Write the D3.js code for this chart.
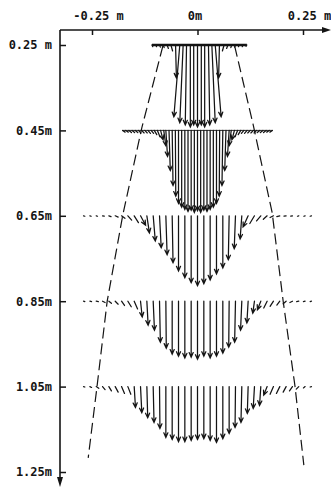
<!DOCTYPE html>
<meta charset="utf-8">
<script src="https://d3js.org/d3.v7.min.js"></script>
<style>
  body { margin: 0; background: #fff; }
  .tick text { font-family: "DejaVu Sans Mono", monospace; font-size: 12px; font-weight: bold; fill: #141414; }
</style>
<div id="chart"></div>
<script>
// measuring depths (m) and axis labels
var depths = [0.25, 0.45, 0.65, 0.85, 1.05];
var xTicks = [-0.25, 0, 0.25];
var xTickLabels = ["-0.25 m", "0m", "0.25 m"];
var yTicks = [0.25, 0.45, 0.65, 0.85, 1.05, 1.25];
var yTickLabels = ["0.25 m", "0.45m", "0.65m", "0.85m", "1.05m", "1.25m"];

// velocity vectors per depth: [x (m), downward part (m), sideways part (m)]
var profile025 = [
  [-0.108, 0.004, 0.002], [-0.099, 0.004, 0.002], [-0.090, 0.005, 0.002], [-0.081, 0.006, 0.002],
  [-0.072, 0.008, 0.003], [-0.063, 0.014, 0.004], [-0.052, 0.077, 0.002], [-0.042, 0.168, -0.014],
  [-0.034, 0.182, -0.008], [-0.026, 0.187, -0.003], [-0.017, 0.192, 0], [-0.009, 0.187, 0],
  [0, 0.192, 0], [0.009, 0.187, 0], [0.017, 0.192, 0], [0.026, 0.187, 0.003],
  [0.034, 0.182, 0.008], [0.042, 0.168, 0.014], [0.052, 0.077, -0.002], [0.063, 0.014, -0.004],
  [0.072, 0.008, -0.003], [0.081, 0.006, -0.002], [0.090, 0.005, -0.002], [0.099, 0.004, -0.002],
  [0.108, 0.004, -0.002], [0.117, 0.003, -0.002]
];
var profile045 = [
  [-0.1775, 0.004, 0.006], [-0.170, 0.004, 0.006], [-0.1625, 0.005, 0.006], [-0.155, 0.005, 0.006],
  [-0.1475, 0.005, 0.006], [-0.140, 0.006, 0.006], [-0.1325, 0.006, 0.006], [-0.125, 0.006, 0.006],
  [-0.1175, 0.007, 0.006], [-0.110, 0.007, 0.006], [-0.1025, 0.010, 0.006], [-0.095, 0.015, 0.006],
  [-0.0875, 0.022, 0.006], [-0.080, 0.036, 0.005], [-0.075, 0.061, 0.004], [-0.0675, 0.094, 0.003],
  [-0.060, 0.129, 0.002], [-0.0525, 0.154, 0.001], [-0.045, 0.171, 0], [-0.0375, 0.180, 0],
  [-0.030, 0.185, 0], [-0.0225, 0.190, 0], [-0.015, 0.187, 0], [-0.0075, 0.192, 0],
  [0, 0.188, 0], [0.0075, 0.192, 0], [0.015, 0.187, 0], [0.0225, 0.190, 0],
  [0.030, 0.185, 0], [0.0375, 0.180, 0], [0.045, 0.171, 0], [0.0525, 0.154, -0.001],
  [0.060, 0.129, -0.002], [0.0675, 0.094, -0.003], [0.075, 0.061, -0.004], [0.080, 0.036, -0.005],
  [0.0875, 0.022, -0.006], [0.095, 0.015, -0.006], [0.1025, 0.010, -0.006], [0.110, 0.007, -0.006],
  [0.1175, 0.007, -0.006], [0.125, 0.006, -0.006], [0.1325, 0.006, -0.006], [0.140, 0.006, -0.006],
  [0.1475, 0.005, -0.006], [0.155, 0.005, -0.006], [0.1625, 0.005, -0.006], [0.170, 0.004, -0.006],
  [0.1775, 0.004, -0.006]
];
var profile065 = [
  [-0.270, 0.001, 0.003], [-0.255, 0.001, 0.003], [-0.240, 0.001, 0.003], [-0.225, 0.001, 0.004],
  [-0.210, 0.002, 0.005], [-0.195, 0.003, 0.007], [-0.180, 0.006, 0.008], [-0.165, 0.010, 0.009],
  [-0.150, 0.016, 0.010], [-0.135, 0.022, 0.012], [-0.120, 0.040, 0.006], [-0.105, 0.059, 0.005],
  [-0.090, 0.075, 0.004], [-0.075, 0.091, 0.003], [-0.060, 0.110, 0.002], [-0.045, 0.129, 0],
  [-0.030, 0.145, 0], [-0.015, 0.157, 0], [0, 0.164, 0], [0.015, 0.159, 0],
  [0.030, 0.150, 0], [0.045, 0.136, 0], [0.060, 0.122, 0], [0.075, 0.103, -0.002],
  [0.090, 0.077, -0.003], [0.105, 0.054, -0.004], [0.120, 0.026, -0.012], [0.135, 0.018, -0.011],
  [0.150, 0.012, -0.010], [0.165, 0.008, -0.009], [0.180, 0.004, -0.008], [0.195, 0.002, -0.007],
  [0.210, 0.001, -0.005], [0.225, 0.001, -0.004], [0.240, 0.001, -0.003], [0.255, 0.001, -0.003],
  [0.270, 0.001, -0.003]
];
var profile085 = [
  [-0.270, 0.001, 0.003], [-0.255, 0.001, 0.004], [-0.240, 0.001, 0.005], [-0.225, 0.003, 0.006],
  [-0.210, 0.005, 0.006], [-0.195, 0.007, 0.007], [-0.180, 0.010, 0.007], [-0.165, 0.013, 0.008],
  [-0.150, 0.018, 0.008], [-0.135, 0.037, 0.004], [-0.120, 0.056, 0.003], [-0.105, 0.068, 0.003],
  [-0.090, 0.096, 0.002], [-0.075, 0.110, 0.001], [-0.060, 0.124, 0], [-0.045, 0.129, 0],
  [-0.030, 0.133, 0], [-0.015, 0.131, 0], [0, 0.136, 0], [0.015, 0.129, 0],
  [0.030, 0.133, 0], [0.045, 0.129, 0], [0.060, 0.122, 0], [0.075, 0.108, -0.001],
  [0.090, 0.096, -0.002], [0.105, 0.068, -0.003], [0.120, 0.051, -0.003], [0.135, 0.028, -0.004],
  [0.150, 0.020, -0.008], [0.165, 0.016, -0.008], [0.180, 0.012, -0.008], [0.195, 0.009, -0.007],
  [0.210, 0.006, -0.007], [0.225, 0.003, -0.006], [0.240, 0.001, -0.005], [0.255, 0.001, -0.004],
  [0.270, 0.001, -0.003]
];
var profile105 = [
  [-0.270, 0.001, 0.003], [-0.255, 0.002, 0.004], [-0.240, 0.004, 0.006], [-0.225, 0.007, 0.006],
  [-0.210, 0.010, 0.006], [-0.195, 0.013, 0.007], [-0.180, 0.016, 0.007], [-0.165, 0.018, 0.007],
  [-0.150, 0.049, 0.003], [-0.135, 0.061, 0.003], [-0.120, 0.073, 0.002], [-0.105, 0.084, 0.002],
  [-0.090, 0.098, 0.001], [-0.075, 0.119, 0], [-0.060, 0.124, 0], [-0.045, 0.129, 0],
  [-0.030, 0.129, 0], [-0.015, 0.126, 0], [0, 0.124, 0], [0.015, 0.122, 0],
  [0.030, 0.126, 0], [0.045, 0.131, 0], [0.060, 0.122, 0], [0.075, 0.110, 0],
  [0.090, 0.096, -0.001], [0.105, 0.084, -0.002], [0.120, 0.063, -0.002], [0.135, 0.051, -0.003],
  [0.150, 0.044, -0.003], [0.165, 0.020, -0.008], [0.180, 0.018, -0.008], [0.195, 0.016, -0.008],
  [0.210, 0.013, -0.007], [0.225, 0.010, -0.007], [0.240, 0.006, -0.006], [0.255, 0.003, -0.004],
  [0.270, 0.001, -0.003]
];
var profiles = [profile025, profile045, profile065, profile085, profile105];

// jet boundary (dashed), [x (m), depth (m)]
var leftEdge = [[-0.082, 0.252], [-0.132, 0.444], [-0.177, 0.648], [-0.214, 0.850], [-0.238, 1.049], [-0.259, 1.217]];
var rightEdge = [[0.088, 0.252], [0.132, 0.437], [0.177, 0.643], [0.203, 0.850], [0.231, 1.049], [0.252, 1.234]];

var W = 331, H = 489;

var svg = d3.select("#chart")
  .append("svg")
    .attr("width", W)
    .attr("height", H);

var x = d3.scaleLinear().domain([-0.25, 0.25]).range([92, 303]);
var y = d3.scaleLinear().domain([0.25, 1.25]).range([45, 472]);

var ink = "#141414";

// top axis
var topAxis = svg.append("g")
  .attr("transform", "translate(0," + 30 + ")")
  .call(d3.axisTop(x).tickValues(xTicks).tickSize(-5).tickPadding(10)
    .tickFormat(function (d, i) { return xTickLabels[i]; }));
topAxis.select(".domain").remove();
topAxis.selectAll(".tick line").attr("stroke", ink).attr("stroke-width", 1.5);
topAxis.selectAll(".tick text").attr("dx", function (d) { return d === 0 ? -3 : 6; });

// left axis
var leftAxis = svg.append("g")
  .attr("transform", "translate(" + 60 + ",0)")
  .call(d3.axisLeft(y).tickValues(yTicks).tickSize(-6).tickPadding(8)
    .tickFormat(function (d, i) { return yTickLabels[i]; }));
leftAxis.select(".domain").remove();
leftAxis.selectAll(".tick line").attr("stroke", ink).attr("stroke-width", 1.5);

// axis lines with arrows
svg.append("line")
  .attr("x1", 60).attr("y1", 30).attr("x2", 325).attr("y2", 30)
  .attr("stroke", ink).attr("stroke-width", 1.6);
svg.append("path")
  .attr("d", "M331,30 L322,27 L322,33 Z")
  .attr("fill", ink);
svg.append("line")
  .attr("x1", 60).attr("y1", 30).attr("x2", 60).attr("y2", 480)
  .attr("stroke", ink).attr("stroke-width", 1.6);
svg.append("path")
  .attr("d", "M60,487 L57,477 L63,477 Z")
  .attr("fill", ink);

// jet boundary lines
var edgeLine = d3.line()
  .x(function (d) { return x(d[0]); })
  .y(function (d) { return y(d[1]); });
svg.selectAll(".edge")
  .data([leftEdge, rightEdge])
  .enter()
  .append("path")
    .attr("class", "edge")
    .attr("d", edgeLine)
    .attr("fill", "none")
    .attr("stroke", ink)
    .attr("stroke-width", 1.2)
    .attr("stroke-dasharray", "11,5");

// baselines of the two upper profiles
svg.append("line")
  .attr("x1", x(profile025[0][0])).attr("x2", x(profile025[profile025.length - 1][0]))
  .attr("y1", y(depths[0])).attr("y2", y(depths[0]))
  .attr("stroke", ink).attr("stroke-width", 2.4);
svg.append("line")
  .attr("x1", x(profile045[0][0])).attr("x2", x(profile045[profile045.length - 1][0]))
  .attr("y1", y(depths[1])).attr("y2", y(depths[1]))
  .attr("stroke", ink).attr("stroke-width", 0.9);

// arrows
function arrowPath(depth, d) {
  var x0 = x(d[0]), y0 = y(depth);
  var x1 = x(d[0] + d[2]), y1 = y(depth + d[1]);
  var dx = x1 - x0, dy = y1 - y0;
  var len = Math.sqrt(dx * dx + dy * dy);
  var p = "M" + x0 + "," + y0 + "L" + x1 + "," + y1;
  if (len > 9) {
    var a = Math.atan2(dy, dx), h = 5, s = 0.42;
    p += "M" + (x1 - h * Math.cos(a - s)) + "," + (y1 - h * Math.sin(a - s)) +
         "L" + x1 + "," + y1 +
         "L" + (x1 - h * Math.cos(a + s)) + "," + (y1 - h * Math.sin(a + s));
  }
  return p;
}

profiles.forEach(function (prof, i) {
  svg.append("g")
    .selectAll("path")
    .data(prof)
    .enter()
    .append("path")
      .attr("d", function (d) { return arrowPath(depths[i], d); })
      .attr("fill", "none")
      .attr("stroke", ink)
      .attr("stroke-width", 1.25)
      .attr("stroke-linecap", "round");
});
</script>
